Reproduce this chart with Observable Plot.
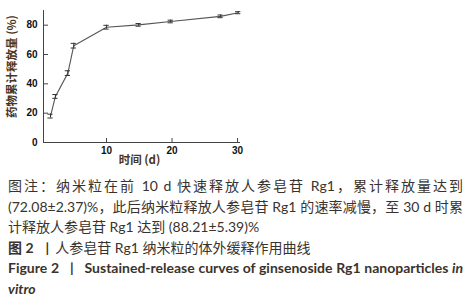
<!DOCTYPE html>
<html><head><meta charset="utf-8">
<script src="https://cdn.jsdelivr.net/npm/d3@7"></script>
<script src="https://cdn.jsdelivr.net/npm/@observablehq/plot@0.6"></script>
<style>
html,body{margin:0;padding:0;background:#fff;}
body{width:476px;height:300px;overflow:hidden;position:relative;}
#chart{position:absolute;left:0;top:0;}
#cap{position:absolute;left:8px;top:176px;width:455px;font-family:Lato,"Noto Sans CJK SC",sans-serif;font-size:14px;line-height:20.5px;color:#3a332d;}
#cap div{white-space:nowrap;}
#cap .j{white-space:normal;text-align:justify;text-align-last:justify;}
#cap b{font-weight:bold;}
.bar{display:inline-block;margin:0 6px 0 12px;font-weight:bold;}
</style>
</head><body>
<div id="chart"></div>
<div id="cap">
<div class="j">图注：纳米粒在前 10 d 快速释放人参皂苷 Rg1，累计释放量达到</div>
<div class="j">(72.08±2.37)%，此后纳米粒释放人参皂苷 Rg1 的速率减慢，至 30 d 时累</div>
<div>计释放人参皂苷 Rg1 达到 (88.21±5.39)%</div>
<div><b>图 2</b><span class="bar">|</span>人参皂苷 Rg1 纳米粒的体外缓释作用曲线</div>
<div class="j" style="font-weight:bold;">Figure 2 &nbsp;&nbsp;| &nbsp;&nbsp;Sustained-release curves of ginsenoside Rg1 nanoparticles <i>in</i></div>
<div style="font-weight:bold;"><i>vitro</i></div>
</div>
<script>
const days = [1.45, 2.2, 4.1, 5, 10, 14.9, 19.8, 27.4, 30.1];
const release = [18, 31.4, 47.3, 66, 78.6, 80.2, 82.5, 86, 88.5];
const errors = [1.3, 1.3, 1.6, 1.6, 1.3, 0.9, 0.9, 0.9, 0.7];
const xTicks = [10, 20, 30];
const yTicks = [0, 20, 40, 60, 80];
const xLabel = "时间 (d)";
const yLabel = "药物累计释放量 (%)";

const data = days.map((d, i) => ({day: d, v: release[i], e: errors[i]}));
const x0 = 0.38, x1 = 30.45;
const labelColor = "#4a3520";
const axisColor = "#444";

const plot = Plot.plot({
  width: 250, height: 168,
  marginLeft: 43, marginRight: 10, marginTop: 10, marginBottom: 26,
  style: {fontFamily: "'Liberation Sans', Arial, sans-serif", fontSize: "10px", fontWeight: "bold", color: "#111", background: "#fff"},
  x: {domain: [x0, x1]},
  y: {domain: [0, 90]},
  marks: [
    Plot.ruleX([x0], {stroke: axisColor, strokeWidth: 1}),
    Plot.ruleY([0], {stroke: axisColor, strokeWidth: 1}),
    Plot.axisX({ticks: xTicks, tickSize: -4, tickPadding: 8, label: null, stroke: axisColor}),
    Plot.axisY({ticks: yTicks, tickSize: -5, tickPadding: 11, label: null, stroke: axisColor}),
    Plot.line(data, {x: "day", y: "v", stroke: "#555", strokeWidth: 1.1}),
    Plot.ruleX(data, {x: "day", y1: d => d.v - d.e, y2: d => d.v + d.e, stroke: "#333", strokeWidth: 1}),
    Plot.ruleY(data, {y: d => d.v + d.e, x1: d => d.day - 0.4, x2: d => d.day + 0.4, stroke: "#333", strokeWidth: 1}),
    Plot.ruleY(data, {y: d => d.v - d.e, x1: d => d.day - 0.4, x2: d => d.day + 0.4, stroke: "#333", strokeWidth: 1}),
    Plot.text([yLabel], {frameAnchor: "left", rotate: -90, textAnchor: "middle", lineAnchor: "middle", dx: -31, dy: -10, fontSize: 11.5, fontWeight: "bold", fill: labelColor, fontFamily: "'Noto Sans CJK SC', sans-serif"}),
    Plot.text([xLabel], {frameAnchor: "bottom", textAnchor: "middle", lineAnchor: "middle", dx: -2.5, dy: 18, fontSize: 11.5, fontWeight: "bold", fill: labelColor, fontFamily: "'Noto Sans CJK SC', sans-serif"})
  ]
});
document.getElementById("chart").appendChild(plot);
</script>
</body></html>
